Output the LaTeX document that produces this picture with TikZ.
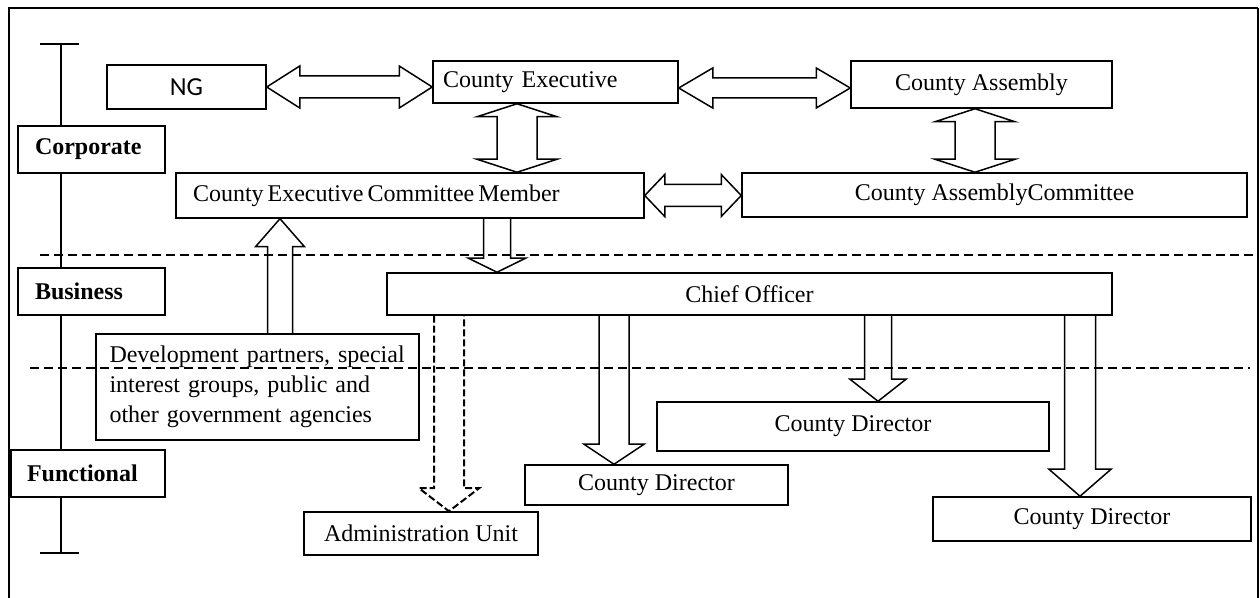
\documentclass[tikz,border=0pt]{standalone}
\usepackage{fontspec}
\setmainfont{Liberation Serif}
\newfontfamily\ngfont{Carlito}
\usetikzlibrary{calc}

\tikzset{
  box/.style={draw, line width=0.75pt, inner sep=0pt, font=\fontsize{12}{15}\selectfont},
  lbox/.style={box, align=left},
  lvl/.style={draw, fill=white, line width=0.75pt, inner sep=0pt, align=left,
    minimum height=23.5pt, font=\fontsize{12}{15}\selectfont\bfseries},
  sep/.style={line width=1.2pt, dash pattern=on 4.5pt off 2.5pt},
  blk/.style={line width=0.75pt, line join=miter},
  hdouble/.style args={#1/#2/#3}{blk, to path={let \p1=(\tikztostart), \p2=(\tikztotarget) in
    (\x1,\y1) -- (\x1+#3,\y1+#2) -- (\x1+#3,\y1+#1) -- (\x2-#3,\y1+#1) -- (\x2-#3,\y1+#2) -- (\x2,\y1)
    -- (\x2-#3,\y1-#2) -- (\x2-#3,\y1-#1) -- (\x1+#3,\y1-#1) -- (\x1+#3,\y1-#2) -- cycle}},
  vdouble/.style args={#1/#2/#3}{blk, to path={let \p1=(\tikztostart), \p2=(\tikztotarget) in
    (\x1,\y1) -- (\x1+#2,\y1-#3) -- (\x1+#1,\y1-#3) -- (\x1+#1,\y2+#3) -- (\x1+#2,\y2+#3) -- (\x1,\y2)
    -- (\x1-#2,\y2+#3) -- (\x1-#1,\y2+#3) -- (\x1-#1,\y1-#3) -- (\x1-#2,\y1-#3) -- cycle}},
  blkdown/.style args={#1/#2/#3}{blk, to path={let \p1=(\tikztostart), \p2=(\tikztotarget) in
    (\x1-#1,\y1) -- (\x1-#1,\y2+#3) -- (\x1-#2,\y2+#3) -- (\x1,\y2) -- (\x1+#2,\y2+#3) -- (\x1+#1,\y2+#3) -- (\x1+#1,\y1)}},
  blkup/.style args={#1/#2/#3}{blk, to path={let \p1=(\tikztostart), \p2=(\tikztotarget) in
    (\x1-#1,\y1) -- (\x1-#1,\y2-#3) -- (\x1-#2,\y2-#3) -- (\x1,\y2) -- (\x1+#2,\y2-#3) -- (\x1+#1,\y2-#3) -- (\x1+#1,\y1)}}
}

\begin{document}
\begin{tikzpicture}[x=0.5pt,y=-0.5pt]
\useasboundingbox (0,0) rectangle (1260,598);
% frame
\draw[line width=1.3pt] (9,598) -- (9,8) -- (1258,8);
\draw[line width=0.7pt] (1258,8) -- (1258,598);

% level axis
\coordinate (axtop) at (61,44);
\coordinate (axbot) at (61,553);
\draw[line width=0.75pt] (axtop) -- (axbot);
\draw[line width=0.75pt] ([xshift=-10.5pt]axtop) -- ([xshift=9pt]axtop);
\draw[line width=0.75pt] ([xshift=-10.5pt]axbot) -- ([xshift=9pt]axbot);
% Text Node
\node[lvl, text width=56.5pt, inner xsep=8.5pt] (corp) at (91.5,149.5) {Corporate};
% Text Node
\node[lvl, text width=56.5pt, inner xsep=8.5pt] (bus) at (91.5,291.5) {Business};
% Text Node
\node[lvl, text width=61pt, inner xsep=8pt] (func) at (88,473.5) {Functional};

% separators
\draw[sep] (40,255) -- (1258,255);
\draw[sep] (30,368) -- (1250,368);

% Text Node
\node[box, minimum width=79.5pt, minimum height=22pt, font=\ngfont\fontsize{13}{15}\selectfont] (ng) at (186.5,87) {NG};
% Text Node
\node[lbox, text width=112.5pt, inner xsep=5pt, minimum height=21pt] (ce) at (555.5,82) {County Executive};
% Text Node
\node[box, minimum width=130.5pt, minimum height=23.5pt] (ca) at (981.5,84.5) {County Assembly};
% Text Node
\node[lbox, text width=217pt, inner xsep=8.5pt, minimum height=22.5pt] (cecm) at (410,195.5) {County\,Executive\,Committee\,Member};
% Text Node
\node[box, minimum width=252.5pt, minimum height=22pt] (cac) at (994.5,195) {County AssemblyCommittee};
% Text Node
\node[box, minimum width=362.5pt, minimum height=21pt] (chief) at (749.5,294) {Chief Officer};
% Text Node
\node[lbox, text width=148pt, inner xsep=6.75pt, minimum height=53pt] (dev) at (257.5,387) {Development partners, special\\interest groups, public and\\other government agencies};
% Text Node
\node[box, minimum width=117pt, minimum height=21.5pt] (admin) at (421,533.5) {Administration Unit};
% Text Node
\node[box, minimum width=131.5pt, minimum height=20pt] (cd1) at (656.5,485) {County Director};
% Text Node
\node[box, minimum width=196pt, minimum height=24.5pt] (cd2) at (853,426.5) {County Director};
% Text Node
\node[box, minimum width=159pt, minimum height=22pt] (cd3) at (1092,519) {County Director};

% block arrows
\draw[hdouble=5.5pt/10.5pt/16.5pt] (ng.east) to (ng.east -| ce.west);
\draw[hdouble=5pt/10pt/17pt] (ce.east |- 0,88) to (ca.west |- 0,88);
\draw[vdouble=10pt/20pt/6.5pt] (517,0 |- ce.south) to (517,0 |- cecm.north);
\draw[vdouble=10pt/20pt/6.5pt] (975,0 |- ca.south) to (975,0 |- cac.north);
\draw[hdouble=5.5pt/10.5pt/10pt] (cecm.east) to (cecm.east -| cac.west);
\draw[blkup=6.25pt/12.25pt/14pt] (280,0 |- dev.north) to (280,0 |- cecm.south);
\draw[blkdown=6.75pt/14.25pt/7pt] (497,0 |- cecm.south) to (497,0 |- chief.north);
\draw[blkdown=7.5pt/15pt/11.5pt, line width=1pt, dash pattern=on 3.5pt off 1.5pt] (449,0 |- chief.south) to (449,0 |- admin.north);
\draw[blkdown=7.5pt/15pt/10pt] (614,0 |- chief.south) to (614,0 |- cd1.north);
\draw[blkdown=6.75pt/14pt/11pt] (878,0 |- chief.south) to (878,0 |- cd2.north);
\draw[blkdown=7.75pt/15.5pt/13.5pt] (1080,0 |- chief.south) to (1080,0 |- cd3.north);
\end{tikzpicture}
\end{document}
